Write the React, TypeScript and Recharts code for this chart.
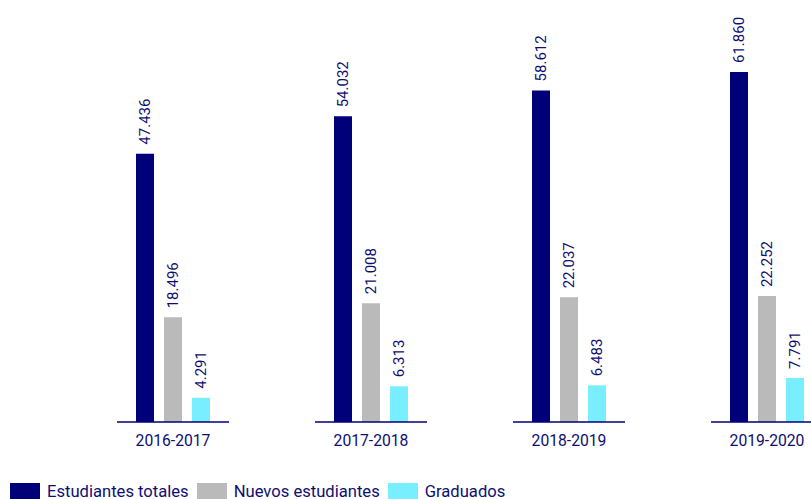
import React from "react";
import { BarChart, Bar, XAxis, YAxis, Legend, LabelList } from "recharts";

const categories = ["2016-2017", "2017-2018", "2018-2019", "2019-2020"];
const totales = [47436, 54032, 58612, 61860];
const nuevos = [18496, 21008, 22037, 22252];
const graduados = [4291, 6313, 6483, 7791];
const seriesNames = ["Estudiantes totales", "Nuevos estudiantes", "Graduados"];

const data = categories.map((c, i) => ({
  year: c,
  totales: totales[i],
  nuevos: nuevos[i],
  graduados: graduados[i],
}));

const NAVY = "#000078";
const GRAY = "#bababa";
const CYAN = "#78eeff";
const TEXT = "#0e0e72";
const FONT = "Roboto, 'Noto Sans', sans-serif";

const fmt = (v: number) => v.toString().replace(/\B(?=(\d{3})+(?!\d))/g, ".");

const ValueLabel = (props: any) => {
  const { x, y, width, value } = props;
  const cx = x + width / 2;
  const cy = y - 9;
  return (
    <text
      x={cx}
      y={cy}
      transform={`rotate(-90, ${cx}, ${cy})`}
      textAnchor="start"
      dominantBaseline="central"
      fill={TEXT}
      fontSize={15}
      fontFamily={FONT}
    >
      {fmt(value)}
    </text>
  );
};

const Tick = (props: any) => {
  const { x, y, payload } = props;
  return (
    <g>
      <line x1={x - 56} x2={x + 56} y1={y} y2={y} stroke={NAVY} strokeWidth={1.6} />
      <text x={x} y={y + 24} textAnchor="middle" fill={TEXT} fontSize={15.7} fontFamily={FONT}>
        {payload.value}
      </text>
    </g>
  );
};

const colors = [NAVY, GRAY, CYAN];

const LegendContent = () => (
  <div style={{ height: 48, position: "relative", fontFamily: FONT, fontSize: 16.6, color: TEXT }}>
    <div style={{ display: "flex", alignItems: "flex-start", paddingLeft: 10, paddingTop: 1 }}>
      {seriesNames.map((n, i) => (
        <div key={n} style={{ display: "flex", alignItems: "flex-start", marginRight: 8 }}>
          <div style={{ width: 30, height: 20, background: colors[i] }} />
          <span style={{ marginLeft: 7, lineHeight: "20px", position: "relative", top: -1, whiteSpace: "nowrap" }}>{n}</span>
        </div>
      ))}
    </div>
  </div>
);

export default function App() {
  return (
    <div style={{ position: "absolute", left: 0, top: 0, width: 811, height: 499, overflow: "hidden", background: "#fff" }}>
      <BarChart
        width={866}
        height={530}
        data={data}
        margin={{ top: 26, right: 0, left: 74, bottom: 0 }}
        barSize={18}
        barGap={10}
      >
        <XAxis
          dataKey="year"
          axisLine={false}
          tickLine={false}
          tickSize={0}
          tickMargin={0}
          interval={0}
          height={60}
          tick={<Tick />}
        />
        <YAxis hide domain={[0, 70000]} />
        <Legend
          verticalAlign="bottom"
          align="left"
          content={<LegendContent />}
          wrapperStyle={{ left: 0, bottom: 0, width: 811, height: 48 }}
        />
        <Bar dataKey="totales" name={seriesNames[0]} fill={NAVY} isAnimationActive={false}>
          <LabelList dataKey="totales" content={<ValueLabel />} />
        </Bar>
        <Bar dataKey="nuevos" name={seriesNames[1]} fill={GRAY} isAnimationActive={false}>
          <LabelList dataKey="nuevos" content={<ValueLabel />} />
        </Bar>
        <Bar dataKey="graduados" name={seriesNames[2]} fill={CYAN} isAnimationActive={false}>
          <LabelList dataKey="graduados" content={<ValueLabel />} />
        </Bar>
      </BarChart>
    </div>
  );
}
